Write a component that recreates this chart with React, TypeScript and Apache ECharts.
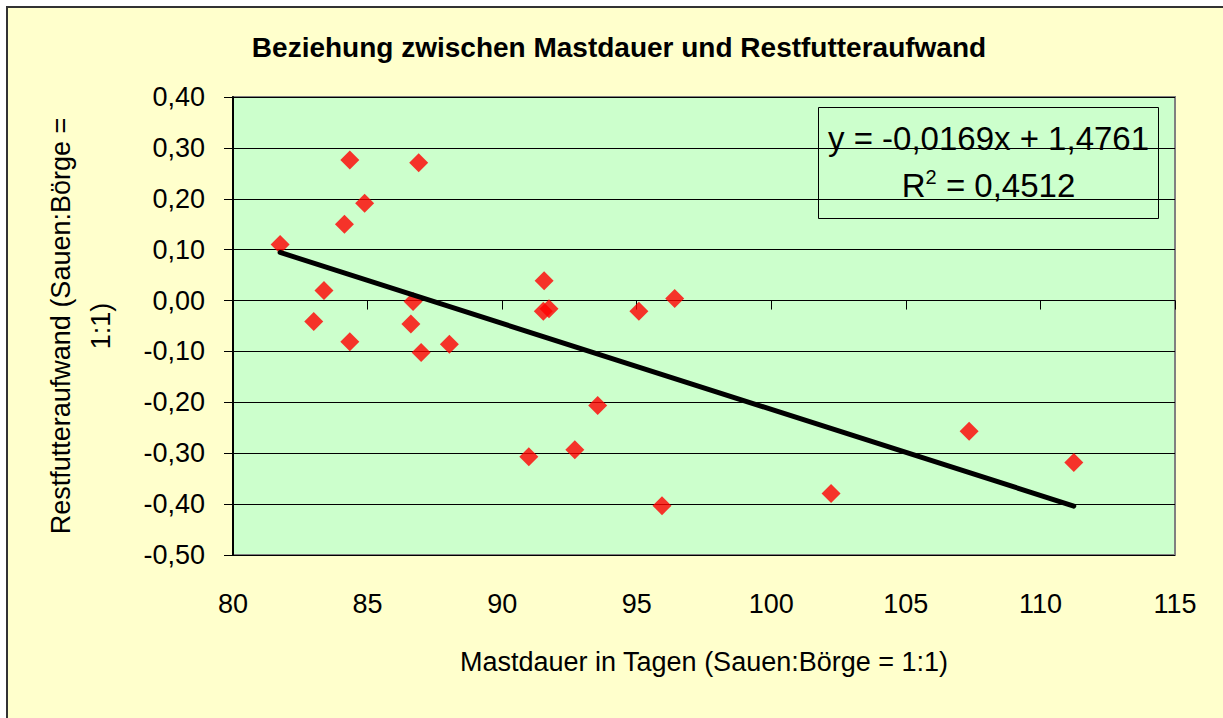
import React, { useEffect, useRef } from "react";
import * as echarts from "echarts";

const titleText = "Beziehung zwischen Mastdauer und Restfutteraufwand";
const xAxisName = "Mastdauer in Tagen (Sauen:Börge = 1:1)";
const yAxisName = "Restfutteraufwand (Sauen:Börge =\n1:1)";

const mastdauer = [81.75, 84.34, 86.9, 84.89, 84.14, 83.38, 83.0, 84.34, 86.69, 86.61, 86.99, 88.04, 91.56, 91.53, 91.74, 95.08, 96.41, 93.55, 90.99, 92.7, 95.94, 102.22, 107.35, 111.24];
const restfutter = [0.11, 0.276, 0.271, 0.191, 0.15, 0.02, -0.041, -0.081, -0.002, -0.046, -0.102, -0.086, 0.039, -0.021, -0.016, -0.021, 0.004, -0.206, -0.307, -0.293, -0.403, -0.379, -0.257, -0.318];

const slope = -0.0169;
const intercept = 1.4761;
const rSquared = "0,4512";
const equationText = "y = -0,0169x + 1,4761";

const xMin = 80, xMax = 115, xStep = 5;
const yMin = -0.5, yMax = 0.4, yStep = 0.1;

const FONT = "'Liberation Sans', Arial, sans-serif";

export default function App() {
  const ref = useRef<HTMLDivElement>(null);
  useEffect(() => {
    if (!ref.current) return;
    const chart = echarts.init(ref.current, null, { renderer: "svg" });
    const points = mastdauer.map((x, i) => [x, restfutter[i]]);
    const lo = Math.min(...mastdauer);
    const hi = Math.max(...mastdauer);
    const trend = [
      [lo, slope * lo + intercept],
      [hi, slope * hi + intercept],
    ];
    chart.setOption({
      animation: false,
      textStyle: { fontFamily: FONT },
      title: {
        text: titleText,
        left: 614,
        top: 28,
        textAlign: "center",
        textStyle: { fontFamily: FONT, fontSize: 28, fontWeight: "bold", color: "#000" },
      },
      grid: {
        left: 233,
        right: 48,
        top: 97,
        bottom: 163,
        show: true,
        backgroundColor: "#CCFFCC",
        borderColor: "#808080",
        borderWidth: 2,
        containLabel: false,
      },
      xAxis: [
        {
          type: "value",
          min: xMin,
          max: xMax,
          interval: xStep,
          position: "bottom",
          axisLine: { show: false, onZero: false },
          axisTick: { show: false },
          splitLine: { show: false },
          axisLabel: { margin: 35, fontSize: 27, color: "#000", fontFamily: FONT },
          name: xAxisName,
          nameLocation: "middle",
          nameGap: 93,
          nameTextStyle: { fontSize: 27, color: "#000", fontFamily: FONT },
        },
        {
          type: "value",
          min: xMin,
          max: xMax,
          interval: xStep,
          position: "bottom",
          axisLine: { show: true, onZero: true, onZeroAxisIndex: 0, lineStyle: { color: "#000", width: 1 } },
          axisTick: { show: true, inside: false, length: 9, lineStyle: { color: "#000", width: 1 } },
          axisLabel: { show: false },
          splitLine: { show: false },
        },
      ],
      yAxis: {
        type: "value",
        min: yMin,
        max: yMax,
        interval: yStep,
        axisLine: { show: true, onZero: false, lineStyle: { color: "#000", width: 2 } },
        axisTick: { show: true, inside: false, length: 9, lineStyle: { color: "#000", width: 1 } },
        splitLine: { show: true, lineStyle: { color: "#000", width: 1 } },
        axisLabel: {
          margin: 28,
          fontSize: 27,
          color: "#000",
          fontFamily: FONT,
          formatter: (v: number) => v.toFixed(2).replace(".", ","),
        },
        name: yAxisName,
        nameLocation: "middle",
        nameRotate: 90,
        nameGap: 112,
        nameTextStyle: { fontSize: 27, color: "#000", fontFamily: FONT, lineHeight: 40, align: "center" },
      },
      series: [
        {
          type: "scatter",
          data: points,
          symbol: "diamond",
          symbolSize: 19,
          itemStyle: { color: "#FF0000" },
          z: 3,
        },
        {
          type: "line",
          data: trend,
          showSymbol: false,
          symbol: "none",
          lineStyle: { color: "#000", width: 5, cap: "round" },
          z: 4,
        },
      ],
      graphic: [
        {
          type: "group",
          left: 818,
          top: 107,
          z: 100,
          children: [
            {
              type: "rect",
              shape: { x: 0, y: 0, width: 340, height: 111 },
              style: { fill: "#CCFFCC", stroke: "#000", lineWidth: 1 },
            },
            {
              type: "text",
              x: 170,
              y: 31,
              style: {
                text: equationText,
                fontFamily: FONT,
                fontSize: 33,
                fill: "#000",
                align: "center",
                verticalAlign: "middle",
              },
            },
            {
              type: "text",
              x: 170,
              y: 78,
              style: {
                text: "{a|R}{s|2}{a| = " + rSquared + "}",
                align: "center",
                verticalAlign: "middle",
                rich: {
                  a: { fontFamily: FONT, fontSize: 33, fill: "#000", color: "#000", lineHeight: 38 },
                  s: { fontFamily: FONT, fontSize: 20, fill: "#000", color: "#000", verticalAlign: "top", lineHeight: 38, padding: [0, 0, 15, 0] },
                },
              },
            },
          ],
        },
      ],
    });
    return () => chart.dispose();
  }, []);
  return (
    <div style={{ position: "fixed", left: 0, top: 0, width: 1223, height: 718, background: "#fff", overflow: "hidden" }}>
      <div
        style={{
          position: "absolute",
          left: 6,
          top: 6,
          width: 1240,
          height: 740,
          borderLeft: "2px solid #333",
          borderTop: "2px solid #333",
          background: "#FFFFCC",
        }}
      />
      <div ref={ref} style={{ position: "absolute", left: 0, top: 0, width: 1223, height: 718 }} />
    </div>
  );
}
